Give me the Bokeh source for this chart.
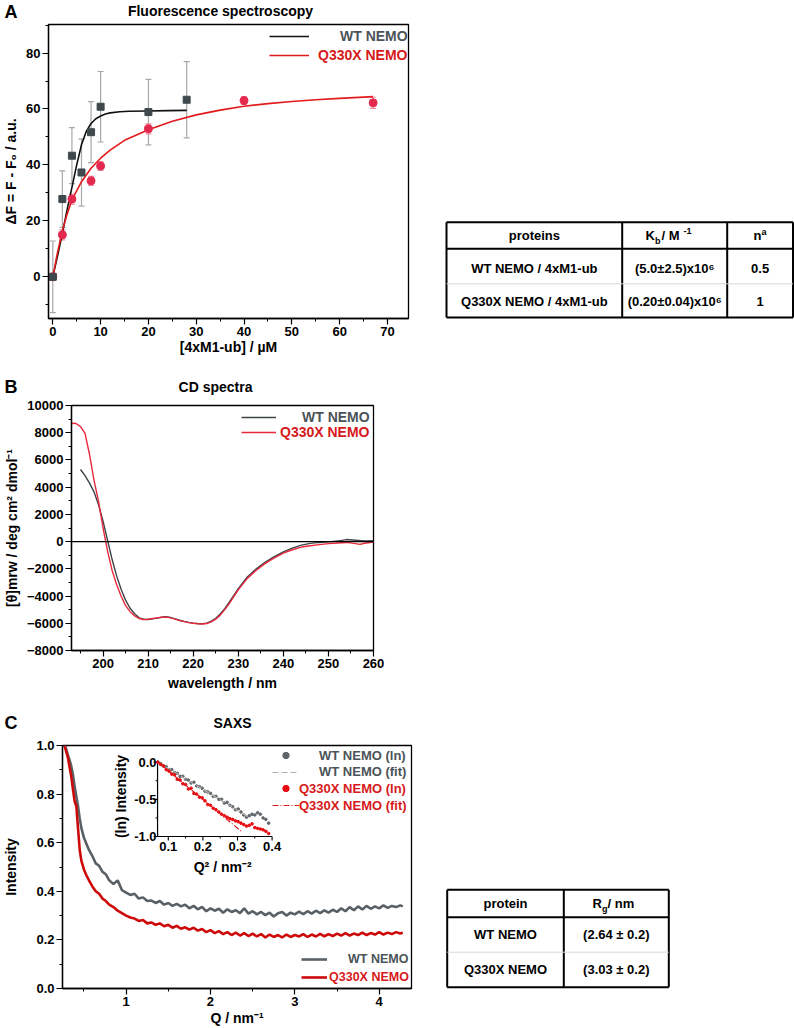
from math import pi
from bokeh.plotting import figure
from bokeh.layouts import column, row
from bokeh.models import (Range1d, Label, Legend, LegendItem, Span, Whisker, TeeHead,
                          ColumnDataSource, SingleIntervalTicker, PrintfTickFormatter)
from bokeh.core.properties import value
from bokeh.embed import file_html
from bokeh.resources import INLINE

FONT = "Liberation Sans"

# ---------------- data: panel A (fluorescence) ----------------
wt_conc = [0, 2, 4, 6, 8, 10, 20, 28]
wt_dF = [0.0, 27.8, 43.3, 37.3, 51.7, 60.8, 58.9, 63.3]
wt_err = [12.8, 10.1, 10.0, 12.0, 10.9, 12.6, 11.7, 13.6]
mut_conc = [0, 2, 4, 8, 10, 20, 40, 67]
mut_dF = [0.0, 15.0, 27.8, 34.3, 39.6, 52.9, 63.0, 62.2]
mut_err = [1.2, 1.8, 1.8, 1.6, 1.6, 1.8, 1.4, 2.0]
wt_fit_x = [0, 1, 2, 3, 4, 5, 6, 7, 8, 9, 10, 11, 12, 14, 16, 20, 24, 28]
wt_fit_y = [0, 7.5, 15.5, 24, 32, 40, 47.2, 52, 54.8, 56.5, 57.5, 58.2, 58.6, 59.0, 59.2, 59.3, 59.4, 59.5]
mut_fit_x = [0, 1, 2, 3, 4, 6, 8, 10, 12, 15, 20, 25, 30, 35, 40, 45, 50, 55, 60, 67]
mut_fit_y = [0, 8.8, 16.5, 22.5, 27.5, 34, 38.8, 42.4, 45.3, 48.8, 52.6, 55.6, 57.9, 59.6, 61, 61.9, 62.7, 63.3, 63.8, 64.4]

# ---------------- data: panel B (CD spectra) ----------------
cd_wl_wt = [195, 196, 197, 198, 199, 200, 201, 202, 203, 204,
            205, 206, 207, 208, 209, 210, 211, 212, 213, 214,
            215, 216, 217, 218, 219, 220, 221, 222, 223, 224,
            225, 226, 227, 228, 229, 230, 232, 234, 236, 238,
            240, 242, 244, 246, 248, 250, 252, 254, 256, 258, 260]
cd_wt = [5300, 4850, 4300, 3650, 2700, 1500, 100, -1300, -2500, -3500,
         -4300, -4900, -5300, -5600, -5700, -5720, -5680, -5620, -5560, -5520,
         -5580, -5680, -5780, -5860, -5930, -5990, -6020, -6030, -5990, -5850,
         -5640, -5320, -4920, -4450, -3950, -3450, -2600, -2000, -1500, -1100,
         -750, -480, -260, -130, -60, -20, 40, 150, 100, 50, 60]
cd_wl_mut = [193, 194, 195, 196, 197, 198, 199, 200, 201, 202,
             203, 204, 205, 206, 207, 208, 209, 210, 211, 212,
             213, 214, 215, 216, 217, 218, 219, 220, 221, 222,
             223, 224, 225, 226, 227, 228, 229, 230, 232, 234,
             236, 238, 240, 242, 244, 246, 248, 250, 252, 254,
             256, 257, 258, 260]
cd_mut = [8700, 8680, 8450, 7950, 6400, 4500, 2950, 1000, -700, -2100,
          -3150, -4000, -4700, -5150, -5450, -5650, -5720, -5700, -5650, -5600,
          -5560, -5550, -5600, -5700, -5800, -5880, -5950, -6000, -6030, -6050,
          -6020, -5900, -5700, -5400, -5000, -4550, -4050, -3550, -2700, -2100,
          -1600, -1200, -850, -600, -400, -300, -220, -150, -100, -60,
          -150, -200, -120, -30]

# ---------------- data: panel C (SAXS) ----------------
saxs_q = [0.27, 0.29, 0.31, 0.33, 0.35, 0.37, 0.39, 0.41, 0.43, 0.45,
          0.47, 0.50, 0.53, 0.56, 0.60, 0.64, 0.68, 0.72, 0.76, 0.80,
          0.85, 0.90, 0.95, 1.00, 1.05, 1.10, 1.15, 1.20, 1.25, 1.30,
          1.35, 1.40, 1.45, 1.50, 1.55, 1.60, 1.65, 1.70, 1.75, 1.80,
          1.85, 1.90, 1.95, 2.00, 2.05, 2.10, 2.15, 2.20, 2.25, 2.30,
          2.35, 2.40, 2.45, 2.50, 2.55, 2.60, 2.65, 2.70, 2.75, 2.80,
          2.85, 2.90, 2.95, 3.00, 3.05, 3.10, 3.15, 3.20, 3.25, 3.30,
          3.35, 3.40, 3.45, 3.50, 3.55, 3.60, 3.65, 3.70, 3.75, 3.80,
          3.85, 3.90, 3.95, 4.00, 4.05, 4.10, 4.15, 4.20, 4.25, 4.28]
saxs_wt = [1.00, 0.985, 0.96, 0.94, 0.915, 0.88, 0.83, 0.79, 0.75, 0.70,
           0.66, 0.62, 0.595, 0.57, 0.545, 0.515, 0.505, 0.48, 0.47, 0.445,
           0.43, 0.445, 0.405, 0.395, 0.385, 0.39, 0.37, 0.375, 0.36, 0.362,
           0.352, 0.36, 0.345, 0.352, 0.34, 0.348, 0.338, 0.345, 0.33, 0.34,
           0.326, 0.336, 0.318, 0.33, 0.32, 0.328, 0.312, 0.326, 0.315, 0.322,
           0.31, 0.33, 0.308, 0.318, 0.305, 0.315, 0.302, 0.312, 0.296, 0.31,
           0.315, 0.30, 0.312, 0.305, 0.316, 0.306, 0.318, 0.308, 0.32, 0.31,
           0.322, 0.312, 0.324, 0.315, 0.33, 0.318, 0.335, 0.322, 0.338, 0.325,
           0.34, 0.328, 0.338, 0.33, 0.342, 0.332, 0.34, 0.335, 0.342, 0.338]
saxs_mut = [1.00, 0.975, 0.95, 0.91, 0.873, 0.82, 0.77, 0.75, 0.66, 0.57,
            0.525, 0.49, 0.465, 0.445, 0.42, 0.40, 0.39, 0.37, 0.36, 0.345,
            0.335, 0.32, 0.31, 0.30, 0.292, 0.288, 0.278, 0.282, 0.268, 0.272,
            0.262, 0.268, 0.256, 0.262, 0.25, 0.258, 0.246, 0.252, 0.242, 0.25,
            0.238, 0.245, 0.232, 0.24, 0.228, 0.236, 0.224, 0.232, 0.22, 0.23,
            0.218, 0.228, 0.216, 0.226, 0.214, 0.224, 0.21, 0.222, 0.212, 0.22,
            0.21, 0.222, 0.212, 0.22, 0.214, 0.224, 0.212, 0.222, 0.214, 0.225,
            0.215, 0.224, 0.216, 0.226, 0.218, 0.228, 0.218, 0.226, 0.22, 0.23,
            0.22, 0.228, 0.222, 0.232, 0.222, 0.23, 0.224, 0.232, 0.226, 0.23]

ins_q2 = [0.070, 0.078, 0.086, 0.094, 0.102, 0.110, 0.118, 0.126, 0.134, 0.142,
          0.150, 0.158, 0.166, 0.174, 0.182, 0.190, 0.198, 0.206, 0.214, 0.222,
          0.230, 0.238, 0.246, 0.254, 0.262, 0.270, 0.278, 0.286, 0.294, 0.302,
          0.310, 0.318, 0.326, 0.334, 0.342, 0.350, 0.358, 0.366, 0.374, 0.382, 0.390]
ins_wt = [0.00, -0.02, -0.05, -0.06, -0.10, -0.10, -0.14, -0.15, -0.19, -0.19,
          -0.23, -0.24, -0.28, -0.27, -0.32, -0.33, -0.35, -0.39, -0.40, -0.42,
          -0.46, -0.46, -0.50, -0.50, -0.55, -0.54, -0.58, -0.60, -0.64, -0.63,
          -0.67, -0.71, -0.74, -0.72, -0.70, -0.71, -0.68, -0.70, -0.75, -0.77, -0.82]
ins_mut = [0.00, -0.03, -0.05, -0.10, -0.12, -0.16, -0.17, -0.23, -0.24, -0.29,
           -0.30, -0.36, -0.35, -0.42, -0.43, -0.47, -0.48, -0.52, -0.57, -0.58,
           -0.62, -0.64, -0.67, -0.70, -0.72, -0.74, -0.76, -0.77, -0.79, -0.80,
           -0.82, -0.84, -0.86, -0.85, -0.83, -0.88, -0.89, -0.90, -0.91, -0.93, -0.96]
ins_wt_fit_x = [0.07, 0.333]
ins_wt_fit_y = [0.0, -0.74]
ins_mut_fit_x = [0.07, 0.311]
ins_mut_fit_y = [0.0, -0.93]
ins_xticks = [0.1, 0.2, 0.3, 0.4]
ins_xminor = [0.15, 0.25, 0.35]
ins_yticks = [0.0, -0.5, -1.0]
ins_yminor = [-0.25, -0.75]
ins_xlabels = ["0.1", "0.2", "0.3", "0.4"]
ins_ylabels = ["0.0", "-0.5", "-1.0"]

# ---------------- tables ----------------
tabA_col1 = ["WT NEMO / 4xM1-ub", "Q330X NEMO / 4xM1-ub"]
tabA_col2 = ["(5.0±2.5)x10⁶", "(0.20±0.04)x10⁶"]
tabA_col3 = ["0.5", "1"]
tabC_col1 = ["WT NEMO", "Q330X NEMO"]
tabC_col2 = ["(2.64 ± 0.2)", "(3.03 ± 0.2)"]

# ---------------- colours ----------------
WT_TXT = "#4b5358"
MUT_TXT = "#d7191c"


def geom(pl, pt, w, h, bl, br, bt, bb, xr, yr):
    return dict(pl=pl, pt=pt, w=w, h=h, bl=bl, br=br, bt=bt, bb=bb,
                fl=pl + bl, fr=pl + w - br, ft=pt + bt, fb=pt + h - bb, xr=xr, yr=yr)


GA = geom(0, 22, 428, 338, 44, 20, 2, 42, (-0.9, 74.4), (-14.9, 90.2))
GB = geom(0, 397, 428, 303, 68, 55, 8, 50, (193.0, 260.0), (-8000, 10000))
GC = geom(0, 736, 428, 292, 58, 17, 9, 40, (0.246, 4.383), (0.0, 1.0))


def to_data(g, px, py):
    xr, yr = g["xr"], g["yr"]
    x = xr[0] + (px - g["fl"]) / (g["fr"] - g["fl"]) * (xr[1] - xr[0])
    y = yr[0] + (g["fb"] - py) / (g["fb"] - g["ft"]) * (yr[1] - yr[0])
    return x, y


def make_plot(g, xint, yint, xlabel, ylabel, xstd, ystd, yfmt=None):
    p = figure(width=g["w"], height=g["h"], x_range=Range1d(*g["xr"]), y_range=Range1d(*g["yr"]),
               output_backend="svg", toolbar_location=None, title_location=None,
               min_border_left=g["bl"], min_border_right=g["br"],
               min_border_top=g["bt"], min_border_bottom=g["bb"])
    for gr in p.grid:
        gr.visible = False
    p.outline_line_color = "black"
    p.outline_line_width = 1.3
    p.xaxis.ticker = SingleIntervalTicker(interval=xint, num_minor_ticks=2)
    p.yaxis.ticker = SingleIntervalTicker(interval=yint, num_minor_ticks=2)
    if yfmt:
        p.yaxis.formatter = PrintfTickFormatter(format=yfmt)
    p.xaxis.axis_label = xlabel
    p.yaxis.axis_label = ylabel
    p.xaxis.axis_label_standoff = xstd
    p.yaxis.axis_label_standoff = ystd
    for ax in p.axis:
        ax.major_label_text_font = FONT
        ax.major_label_text_font_style = "bold"
        ax.major_label_text_font_size = "13px"
        ax.major_label_text_color = "black"
        ax.axis_label_text_font = FONT
        ax.axis_label_text_font_style = "bold"
        ax.axis_label_text_font_size = "14px"
        ax.axis_label_text_color = "black"
        ax.axis_line_color = "black"
        ax.axis_line_width = 1.3
        ax.major_tick_out = 6
        ax.major_tick_in = 0
        ax.minor_tick_out = 3
        ax.minor_tick_in = 0
        ax.major_tick_line_color = "black"
        ax.minor_tick_line_color = "black"
        ax.major_tick_line_width = 1.2
        ax.minor_tick_line_width = 1.0
        ax.major_label_standoff = 2
    return p


def add_label(p, g, px, py, text, size="13px", color="black", align="center", angle=0.0):
    x, y = to_data(g, px, py)
    p.add_layout(Label(x=x, y=y, text=text, text_font=FONT, text_font_size=size,
                       text_font_style="bold", text_color=color, text_align=align,
                       text_baseline="middle", angle=angle))


def add_legend(p, g, rend, text, color, x0, x1, yc, xt, size="14px"):
    leg = Legend(items=[LegendItem(label=text, renderers=[rend])],
                 location=(x0 - g["fl"], g["fb"] - yc - 8),
                 glyph_width=int(round(x1 - x0)), glyph_height=16, label_height=16,
                 label_standoff=int(round(xt - x1)), padding=0, margin=0, spacing=0,
                 border_line_alpha=0, background_fill_alpha=0,
                 label_text_font=FONT, label_text_font_style="bold",
                 label_text_font_size=size, label_text_color=color)
    p.add_layout(leg)


def make_sheet(pl, pt, w, h):
    # plain canvas whose data coordinates are page pixels (for tables and headings)
    t = figure(width=w, height=h, x_range=Range1d(pl, pl + w), y_range=Range1d(pt + h, pt),
               output_backend="svg", toolbar_location=None, title_location=None,
               x_axis_type=None, y_axis_type=None, min_border=0)
    for gr in t.grid:
        gr.visible = False
    t.outline_line_color = None
    return t


def ttext(t, xs, ys, texts, size="13px", align="center", baseline="middle"):
    t.text(x=xs, y=ys, text=texts, text_font=value(FONT), text_font_style="bold",
           text_font_size=size, text_align=align, text_baseline=baseline, text_color="black")


# ======================= headings =======================
hA = make_sheet(0, 0, 794, 22)
ttext(hA, [4], [11], ["A"], size="18px", align="left")
ttext(hA, [220], [10], ["Fluorescence spectroscopy"], size="14px")

hB = make_sheet(0, 360, 794, 37)
ttext(hB, [4], [386], ["B"], size="18px", align="left")
ttext(hB, [215], [386], ["CD spectra"], size="14px")

hC = make_sheet(0, 700, 794, 36)
ttext(hC, [4], [722], ["C"], size="18px", align="left")
ttext(hC, [232], [722], ["SAXS"], size="14px")

# ======================= Panel A =======================
pA = make_plot(GA, 10, 20, "[4xM1-ub] / µM", "ΔF = F - F₀ / a.u.", 0, 4)
srcA_wt = ColumnDataSource(dict(x=wt_conc, lo=[v - e for v, e in zip(wt_dF, wt_err)],
                                hi=[v + e for v, e in zip(wt_dF, wt_err)]))
srcA_mut = ColumnDataSource(dict(x=mut_conc, lo=[v - e for v, e in zip(mut_dF, mut_err)],
                                 hi=[v + e for v, e in zip(mut_dF, mut_err)]))
pA.add_layout(Whisker(source=srcA_wt, base="x", upper="hi", lower="lo", line_color="#a8a8a8",
                      line_width=1.2, upper_head=TeeHead(size=6, line_color="#a8a8a8", line_width=1.2),
                      lower_head=TeeHead(size=6, line_color="#a8a8a8", line_width=1.2)))
pA.add_layout(Whisker(source=srcA_mut, base="x", upper="hi", lower="lo", line_color="#f08ca0",
                      line_width=1.2, upper_head=TeeHead(size=6, line_color="#f08ca0", line_width=1.2),
                      lower_head=TeeHead(size=6, line_color="#f08ca0", line_width=1.2)))
rA_wt = pA.line(wt_fit_x, wt_fit_y, line_color="#111111", line_width=1.6)
rA_mut = pA.line(mut_fit_x, mut_fit_y, line_color="#e31a1c", line_width=1.6)
pA.scatter(mut_conc, mut_dF, marker="circle", size=8, fill_color="#e32a4e", line_color="#e32a4e")
pA.scatter(wt_conc, wt_dF, marker="square", size=7, fill_color="#3e484d", line_color="#3e484d")
add_legend(pA, GA, rA_wt, "WT NEMO", WT_TXT, 265, 305, 36, 336)
add_legend(pA, GA, rA_mut, "Q330X NEMO", MUT_TXT, 265, 305, 55, 314)

# ======================= Table A =======================
tA = make_sheet(428, 22, 366, 338)
L, C1, C2, R = 446, 621.7, 726.7, 792.5
T, H, M, B = 221.7, 248.3, 283.3, 317
tA.segment(x0=[L, L, L, R, C1, C2, L], y0=[T, B, T, T, T, T, H],
           x1=[R, R, L, R, C1, C2, R], y1=[T, B, B, B, B, B, H], line_color="black", line_width=2)
tA.segment(x0=[L], y0=[M], x1=[R], y1=[M], line_color="#d8d8d8", line_width=1)
ttext(tA, [(L + C1) / 2], [235], ["proteins"])
ttext(tA, [645], [235], ["K"], align="left")
ttext(tA, [654.5], [240], ["b"], size="9px", align="left")
ttext(tA, [661], [235], [" / M"], align="left")
ttext(tA, [683], [230], ["-1"], size="9px", align="left")
ttext(tA, [753], [235], ["n"], align="left")
ttext(tA, [761], [231], ["a"], size="9px", align="left")
ttext(tA, [(L + C1) / 2] * 2, [267.5, 301], tabA_col1)
ttext(tA, [(C1 + C2) / 2] * 2, [267.5, 301], tabA_col2)
ttext(tA, [(C2 + R) / 2] * 2, [267.5, 301], tabA_col3)

# ======================= Panel B =======================
pB = make_plot(GB, 10, 2000, "wavelength / nm", "[θ]mrw / deg cm² dmol⁻¹", 4, 4)
pB.add_layout(Span(location=0, dimension="width", line_color="black", line_width=1.2))
rB_wt = pB.line(cd_wl_wt, cd_wt, line_color="#3c4448", line_width=1.4)
rB_mut = pB.line(cd_wl_mut, cd_mut, line_color="#e8283c", line_width=1.4)
add_legend(pB, GB, rB_wt, "WT NEMO", WT_TXT, 238, 273, 417, 299)
add_legend(pB, GB, rB_mut, "Q330X NEMO", MUT_TXT, 238, 273, 432, 277)

# ======================= Panel C =======================
pC = make_plot(GC, 1, 0.2, "Q / nm⁻¹", "Intensity", 1, 14, yfmt="%.1f")
rC_wt = pC.line(saxs_q, saxs_wt, line_color="#596166", line_width=2.6)
rC_mut = pC.line(saxs_q, saxs_mut, line_color="#cc0a0a", line_width=2.6)
add_legend(pC, GC, rC_wt, "WT NEMO", WT_TXT, 297, 323, 959, 344, size="12.5px")
add_legend(pC, GC, rC_mut, "Q330X NEMO", MUT_TXT, 297, 323, 976.5, 325, size="12.5px")

# inset mapped onto extra ranges
IX_PX0, IX_SCALE = 165.0, 350.0    # page x of Q2=0.1, px per unit
IY_PY0, IY_SCALE = 761.7, 74.3     # page y of ln=0, px per unit
ix0 = 0.1 + (GC["fl"] - IX_PX0) / IX_SCALE
ix1 = 0.1 + (GC["fr"] - IX_PX0) / IX_SCALE
iy0 = -(GC["fb"] - IY_PY0) / IY_SCALE
iy1 = -(GC["ft"] - IY_PY0) / IY_SCALE
pC.extra_x_ranges = {"ix": Range1d(ix0, ix1)}
pC.extra_y_ranges = {"iy": Range1d(iy0, iy1)}
IN = dict(x_range_name="ix", y_range_name="iy")
AX_X0, AX_Y0 = 0.069, -1.0
tkx = 4.0 / IX_SCALE
tky = 4.0 / IY_SCALE
pC.segment(x0=[AX_X0, AX_X0], y0=[AX_Y0, AX_Y0], x1=[AX_X0, 0.40], y1=[0.02, AX_Y0],
           line_color="black", line_width=1.2, **IN)
pC.segment(x0=[AX_X0 - tkx] * len(ins_yticks), y0=ins_yticks, x1=[AX_X0] * len(ins_yticks),
           y1=ins_yticks, line_color="black", line_width=1.1, **IN)
pC.segment(x0=[AX_X0 - tkx / 2] * len(ins_yminor), y0=ins_yminor, x1=[AX_X0] * len(ins_yminor),
           y1=ins_yminor, line_color="black", line_width=1.0, **IN)
pC.segment(x0=ins_xticks, y0=[AX_Y0 - tky] * len(ins_xticks), x1=ins_xticks,
           y1=[AX_Y0] * len(ins_xticks), line_color="black", line_width=1.1, **IN)
pC.segment(x0=ins_xminor, y0=[AX_Y0 - tky / 2] * len(ins_xminor), x1=ins_xminor,
           y1=[AX_Y0] * len(ins_xminor), line_color="black", line_width=1.0, **IN)
pC.text(x=[AX_X0] * len(ins_yticks), y=ins_yticks, text=ins_ylabels, x_offset=-1,
        text_font=value(FONT), text_font_style="bold", text_font_size="13px",
        text_align="right", text_baseline="middle", text_color="black", **IN)
pC.text(x=ins_xticks, y=[AX_Y0] * len(ins_xticks), text=ins_xlabels, y_offset=5,
        text_font=value(FONT), text_font_style="bold", text_font_size="13px",
        text_align="center", text_baseline="top", text_color="black", **IN)
rI_wt = pC.scatter(ins_q2, ins_wt, marker="circle", size=2.6, fill_color="#5f6569",
                   line_color="#5f6569", **IN)
rI_wtfit = pC.line(ins_wt_fit_x, ins_wt_fit_y, line_color="#b0b0b0", line_width=1.2,
                   line_dash="6 3", **IN)
rI_mut = pC.scatter(ins_q2, ins_mut, marker="circle", size=2.6, fill_color="#e8090f",
                    line_color="#e8090f", **IN)
rI_mutfit = pC.line(ins_mut_fit_x, ins_mut_fit_y, line_color="#e0191c", line_width=1.2,
                    line_dash="6 2 1 2", **IN)
add_legend(pC, GC, rI_wt, "WT NEMO (ln)", WT_TXT, 268, 295, 755, 315, size="13px")
add_legend(pC, GC, rI_wtfit, "WT NEMO (fit)", WT_TXT, 268, 295, 771.7, 315, size="13px")
add_legend(pC, GC, rI_mut, "Q330X NEMO (ln)", MUT_TXT, 268, 295, 788.3, 295, size="13px")
add_legend(pC, GC, rI_mutfit, "Q330X NEMO (fit)", MUT_TXT, 268, 295, 805, 295, size="13px")
add_label(pC, GC, 117, 796, "(ln) Intensity", size="14px", angle=pi / 2)
add_label(pC, GC, 220, 866, "Q² / nm⁻²", size="14px")

# ======================= Table C =======================
tC = make_sheet(428, 736, 366, 292)
L, C1, R = 446.7, 563.3, 668.3
T, H, M, B = 889.3, 916.7, 951.7, 986.7
tC.segment(x0=[L, L, L, R, C1, L], y0=[T, B, T, T, T, H],
           x1=[R, R, L, R, C1, R], y1=[T, B, B, B, B, H], line_color="black", line_width=2)
tC.segment(x0=[L], y0=[M], x1=[R], y1=[M], line_color="#d8d8d8", line_width=1)
ttext(tC, [(L + C1) / 2], [903], ["protein"])
ttext(tC, [592], [903], ["R"], align="left")
ttext(tC, [601.5], [908], ["g"], size="9px", align="left")
ttext(tC, [607], [903], [" / nm"], align="left")
ttext(tC, [(L + C1) / 2] * 2, [934.2, 969.2], tabC_col1)
ttext(tC, [(C1 + R) / 2] * 2, [934.2, 969.2], tabC_col2)

# each figure wrapped on its own so that Bokeh does not align plot frames with neighbours
layout = column(row(hA), row(column(pA), column(tA)), row(hB), row(pB), row(hC),
                row(column(pC), column(tC)))
open("out.html", "w").write(file_html(layout, INLINE, "Figure"))
